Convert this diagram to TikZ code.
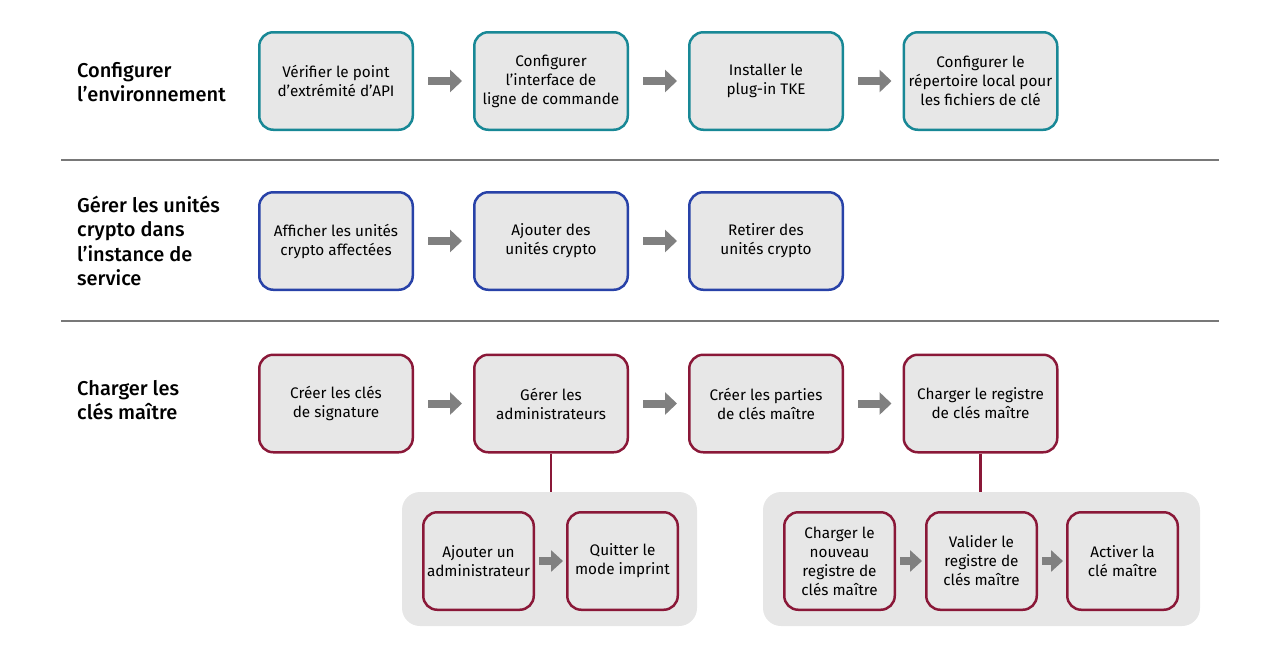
\documentclass[tikz,border=0pt]{standalone}
\usepackage{fontspec}
\setmainfont{Fira Sans}
\newfontfamily\labelfont{Fira Sans Medium}
\usetikzlibrary{arrows.meta}
\definecolor{tealc}{RGB}{24,136,150}
\definecolor{bluec}{RGB}{40,66,168}
\definecolor{redc}{RGB}{138,24,56}
\definecolor{boxfill}{RGB}{231,231,231}
\definecolor{groupfill}{RGB}{230,230,230}
\definecolor{arrowc}{RGB}{128,128,128}
\definecolor{sepc}{RGB}{120,120,120}
\begin{document}
\begin{tikzpicture}[x=1pt,y=-1pt,
  box/.style={draw, line width=2.5pt, rounded corners=14pt, fill=boxfill,
    minimum width=153.5pt, minimum height=97.5pt, align=center, inner sep=0pt,
    font=\fontsize{15.3}{19}\selectfont},
  subbox/.style={box, minimum width=110.5pt},
  tealbox/.style={box, draw=tealc},
  bluebox/.style={box, draw=bluec},
  redbox/.style={box, draw=redc},
  redsub/.style={subbox, draw=redc},
  group/.style={fill=groupfill, rounded corners=18pt, inner sep=0pt},
  flow/.style={draw=arrowc, line width=8pt, -{Triangle[width=22pt,length=12pt]}, shorten <=14pt, shorten >=11pt},
  subflow/.style={draw=arrowc, line width=8pt, -{Triangle[width=21pt,length=12pt]}, shorten <=4pt, shorten >=3pt},
  link/.style={draw=redc, line width=2.5pt},
  sep/.style={draw=sepc, line width=1.2pt},
  lbl/.style={anchor=west, align=left, inner sep=0pt, font=\labelfont\fontsize{20}{24.5}\selectfont}
]
\useasboundingbox (0,0) rectangle (1281,654);

% separators
\coordinate (s1a) at (61,160); \coordinate (s1b) at (1219,160);
\coordinate (s2a) at (61,321); \coordinate (s2b) at (1219,321);
\draw[sep] (s1a) -- (s1b);
\draw[sep] (s2a) -- (s2b);

% labels
\node[lbl] (L1) at (77,82) {Configurer\\l’environnement};
\node[lbl] (L2) at (77,241) {Gérer les unités\\crypto dans\\l’instance de\\service};
\node[lbl] (L3) at (77,400) {Charger les\\clés maître};

% row 1
\node[tealbox] (a1) at (336,81) {Vérifier le point\\d’extrémité d’API};
\node[tealbox] (a2) at (551,81) {Configurer\\l’interface de\\ligne de commande};
\node[tealbox] (a3) at (766,81) {Installer le\\plug-in TKE};
\node[tealbox] (a4) at (980.5,81) {Configurer le\\répertoire local pour\\les fichiers de clé};
\draw[flow] (a1) -- (a2);
\draw[flow] (a2) -- (a3);
\draw[flow] (a3) -- (a4);

% row 2
\node[bluebox] (b1) at (336,241) {Afficher les unités\\crypto affectées};
\node[bluebox] (b2) at (551,241) {Ajouter des\\unités crypto};
\node[bluebox] (b3) at (766,241) {Retirer des\\unités crypto};
\draw[flow] (b1) -- (b2);
\draw[flow] (b2) -- (b3);

% row 3
\node[redbox] (c1) at (336,403.5) {Créer les clés\\de signature};
\node[redbox] (c2) at (551,403.5) {Gérer les\\administrateurs};
\node[redbox] (c3) at (766,403.5) {Créer les parties\\de clés maître};
\node[redbox] (c4) at (980.5,403.5) {Charger le registre\\de clés maître};
\draw[flow] (c1) -- (c2);
\draw[flow] (c2) -- (c3);
\draw[flow] (c3) -- (c4);

% groups
\node[group, minimum width=295pt, minimum height=134pt] (g1) at (549.5,559) {};
\node[group, minimum width=437pt, minimum height=134pt] (g2) at (981.5,559) {};
\draw[link] (c2.south) -- (g1.north -| c2.south);
\draw[link] (c4.south) -- (g2.north -| c4.south);

\node[redsub] (d1) at (478.5,561) {Ajouter un\\administrateur};
\node[redsub] (d2) at (622.5,561) {Quitter le\\mode imprint};
\draw[subflow] (d1) -- (d2);

\node[redsub] (e1) at (839.5,561) {Charger le\\nouveau\\registre de\\clés maître};
\node[redsub] (e2) at (981.5,561) {Valider le\\registre de\\clés maître};
\node[redsub] (e3) at (1122.5,561) {Activer la\\clé maître};
\draw[subflow] (e1) -- (e2);
\draw[subflow] (e2) -- (e3);
\end{tikzpicture}
\end{document}
